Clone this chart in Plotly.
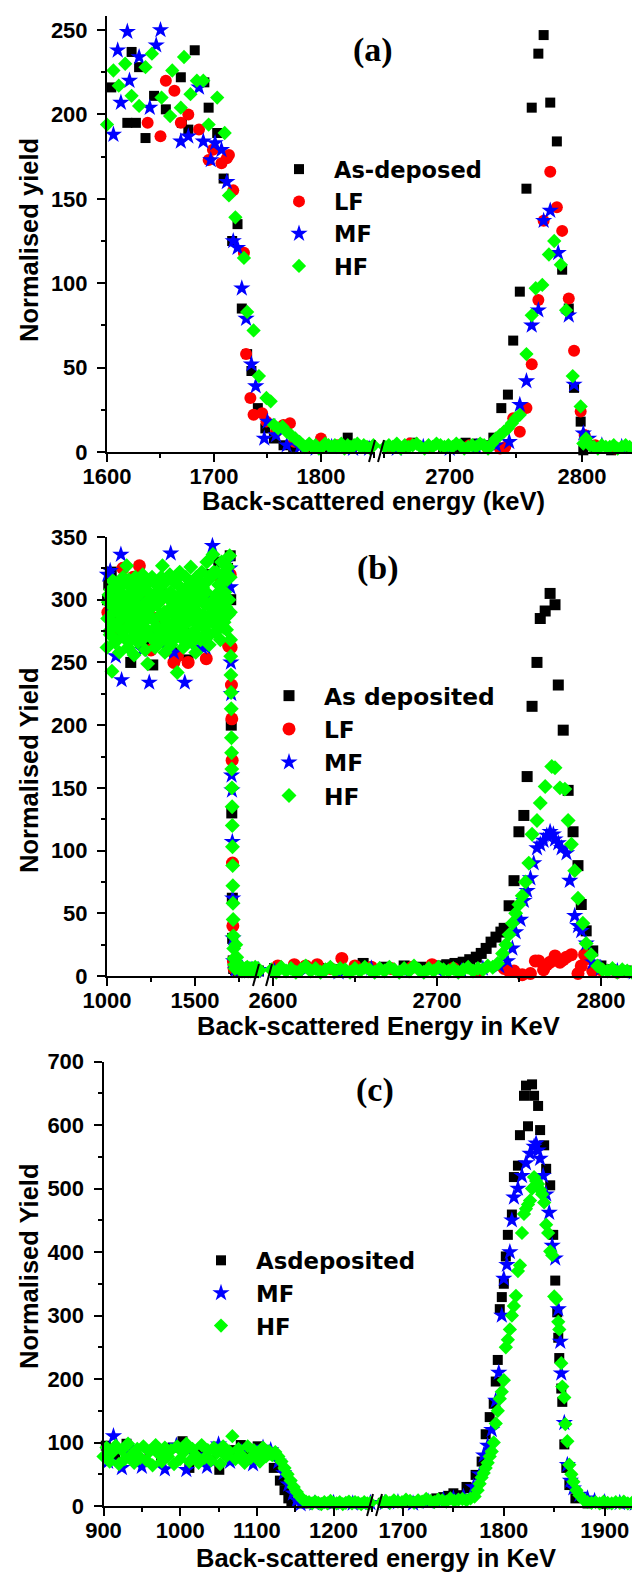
import plotly.graph_objects as go

# ---------------- data: panel (a) ----------------
a_asd_x = [1604,1619,1623,1627,1630,1636,1644,1655,1669,1670,1676,1682,1691,1695,1703,1709,1717,1722,1726,1731,1735,1741,1748,1756,1765,1774,1785,1796,1808,1825,1840,
           2655,2665,2672,2683,2695,2704,2712,2721,2728,2733,2739,2744,2748,2753,2758,2762,2767,2771,2776,2781,2785,2790,2794,2799,2801,2810,2822,2835,2847]
a_asd_y = [216,195,237,195,228,186,211,203,222,195,191,238,219,204,189,162,125,135,85,58,48,26,14,8,4,3,2,3,2,8.5,3,
           2,3,5.5,3,2,3,5.5,5,4,8.5,26,34,66,95,156,204,236,247,207,184,108,85,38,18,1,2,1,2,1]
a_lf_x = [1638,1650,1655,1663,1669,1676,1686,1695,1699,1707,1712,1714,1718,1728,1730,1734,1737,1745,1749,1758,1765,1771,1775,1785,1800,1815,1830,1845,
          2655,2670,2685,2700,2715,2728,2738,2742,2748,2753,2758,2762,2767,2771,2776,2781,2785,2790,2794,2799,2802,2810,2825,2840]
a_lf_y = [195,187,220,214,195,200,191,173,179,171,174,176,155,118,58,32,22,23,18,12,16,17,6,3,8,4,3,3,
          3,5,3,3,4,3,2,3,20,12,26,52,90,137,166,145,131,91,60,24,10,4,2,3]
a_mf_x = [1606,1610,1613,1619,1621,1630,1640,1646,1650,1669,1676,1686,1690,1697,1701,1707,1712,1718,1722,1726,1730,1735,1739,1747,1750,1758,1768,1780,1795,1810,1830,1845,
          2660,2680,2700,2720,2735,2745,2753,2758,2762,2767,2771,2776,2782,2790,2794,2801,2805,2815,2830,2845]
a_mf_y = [188,238,207,249,220,234,204,241,250,184,187,216,184,173,183,179,160,125,121,97,79,52,39,8,18,10,4,3,2,3,2,2,
          2,3,2,3,4,6,28,42,75,84,137,143,118,81,40,11,8,4,3,2]
a_hf_x = [1600,1606,1611,1617,1623,1630,1636,1642,1651,1659,1661,1669,1672,1678,1684,1690,1695,1703,1710,1714,1720,1728,1731,1737,1742,1749,1753,1756,1760,1764,1768,1772,1776,1780,
          1783,1786,1789,1792,1795,1798,1801,1804,1807,1810,1813,1816,1819,1822,1825,1828,1831,1834,1837,1840,1843,1846,1849,
          2651,2654,2657,2660,2663,2666,2669,2672,2675,2678,2681,2684,2687,2690,2693,2696,2699,2702,2705,2708,2711,2714,2717,2720,2723,2726,
          2729,2732,2735,2738,2741,2744,2747,2750,2753,2758,2762,2765,2770,2775,2779,2784,2788,2793,2799,2801,2803,
          2806,2809,2812,2815,2818,2821,2824,2827,2830,2833,2836,2839,2842,2845,2848]
a_hf_y = [194,226,217,230,211,205,228,236,210,199,226,204,234,212,220,220,194,210,189,152,139,115,83,72,45,32,30,16,14,15,12,10,8,6,
          4,3,5,3,4,2,3,5,4,3,4,3,5,2,4,3,4,5,3,4,3,2,4,
          3,4,3,5,2,4,3,4,5,3,2,4,3,5,4,3,4,3,5,4,2,3,4,3,5,4,
          2,5,8,10,12,14,17,20,22,58,81,97,99,117,125,111,84,45,27,5,8,
          4,3,2,4,3,3,4,2,3,4,3,2,3,4,3]

# ---------------- data: panel (b) ----------------
b_asd_x = [1003,1010,1017,1024,1031,1038,1060,1085,1110,1135,1160,1185,1210,1235,1260,1285,1310,1335,1360,1385,1410,1435,1460,1485,1510,1535,1560,1585,1610,1635,1660,1685,1700,
           1703,1706,1709,1712,1714,1717,1720,
           1730,1745,1760,1780,1800,1820,1840,1860,
           2601,2615,2628,2640,2655,2668,2680,2690,2700,2706,2711,2716,2720,2724,2727,2730,2733,2736,2739,2741,
           2744,2747,2750,2753,2755,2758,2761,2763,2766,2769,2772,2774,2777,2780,2783,2786,2788,2791,2795,2800,2806,2815,2825]
b_asd_y = [300,312,318,322,314,305,290,275,300,250,285,310,265,295,248,280,305,270,290,258,300,275,252,290,310,280,300,320,285,330,305,325,335,
           300,200,130,62,30,12,6,
           5,4,5,4,5,4,5,4,
           6,5,6,5,10,7,8,7,8,9,10,11,13,15,18,22,27,31,35,38,
           56,76,115,128,159,215,250,285,291,305,296,232,196,148,115,88,57,36,20,8,5,4,3]
b_lf_x = [1005,1030,1055,1080,1090,1105,1130,1150,1175,1184,1200,1225,1250,1275,1300,1325,1350,1380,1400,1425,1450,1461,1480,1505,1530,1550,1564,1590,1620,1650,1680,1691,1700,
          1705,1707,1709,1711,1713,1715,1718,1722,
          1735,1755,1775,1800,1825,1850,
          2603,2613,2620,2627,2635,2642,2650,2660,2672,2685,2697,2710,2725,2741,2744,2747,2752,2757,
          2760,2762,2765,2767,2769,2772,2775,2777,2779,2782,2786,2788,2790,2792,2795,2800,2810,2822]
b_lf_y = [290,275,305,300,325,280,295,318,270,327,290,305,260,285,300,275,260,250,255,300,285,250,270,290,310,285,253,300,320,305,290,263,320,
          262,232,205,172,90,40,12,6,
          5,6,4,5,4,5,
          8,9,8,9,6,14,8,7,6,7,9,6,4,6,4,4,1,2,
          12,12,5,9,11,16,11,13,15,17,2,8,17,14,4,5,3,4]
b_mf_x = [1002,1018,1040,1050,1065,1079,1083,1100,1125,1150,1175,1200,1225,1240,1260,1285,1310,1340,1362,1380,1400,1420,1442,1465,1490,1515,1540,1560,1580,1599,1620,1650,1680,1698,
          1701,1704,1706,1708,1710,1712,1714,1716,1719,
          1730,1750,1770,1795,1820,1845,1862,
          2601,2620,2640,2660,2680,2700,2715,2728,2738,2743,2746,2748,2751,2753,2755,2757,2759,2761,
          2763,2765,2767,2769,2771,2772,2774,2776,2779,2781,2784,2786,2788,2791,2795,2800,2810,2820]
b_mf_y = [320,323,290,255,305,336,236,270,300,280,300,260,295,234,275,305,265,262,337,258,290,300,234,265,310,280,262,262,300,343,320,300,330,325,
          310,250,225,160,148,107,62,30,12,
          5,4,6,4,5,4,5,
          4,5,3,6,4,5,4,6,8,12,22,35,45,60,68,78,90,102,
          105,108,112,115,113,109,106,102,98,76,48,40,36,26,11,6,4,3]
b_hf_x = [1000,1007,1014,1021,1028,1035,1042,1049,1056,1063,1070,1077,1084,1091,1098,1105,1112,1119,1126,1133,
          1140,1147,1154,1161,1168,1175,1182,1189,1196,1203,1210,1217,1224,1231,1238,1245,1252,1259,1266,1273,
          1280,1287,1294,1301,1308,1315,1322,1329,1336,1343,1350,1357,1364,1371,1378,1385,1392,1399,1406,1413,
          1420,1427,1434,1441,1448,1455,1462,1469,1476,1483,1490,1497,1504,1511,1518,1525,1532,1539,1546,1553,
          1560,1567,1574,1581,1588,1595,1602,1609,1616,1623,1630,1637,1644,1651,1658,1665,1672,1679,1686,1693,
          1004,1011,1018,1025,1032,1039,1046,1053,1060,1067,1074,1081,1088,1095,1102,1109,1116,1123,1130,1137,
          1144,1151,1158,1165,1172,1179,1186,1193,1200,1207,1214,1221,1228,1235,1242,1249,1256,1263,1270,1277,
          1284,1291,1298,1305,1312,1319,1326,1333,1340,1347,1354,1361,1368,1375,1382,1389,1396,1403,1410,1417,
          1424,1431,1438,1445,1452,1459,1466,1473,1480,1487,1494,1501,1508,1515,1522,1529,1536,1543,1550,1557,
          1564,1571,1578,1585,1592,1599,1606,1613,1620,1627,1634,1641,1648,1655,1662,1669,1676,1683,1690,
          1697,1700,1701,1702,1703,1704,1705,1706,1707,1708,1709,1710,1711,1712,1713,1714,1715,1716,1717,1718,1720,1722,1725,1728,
          1732,1737,1742,1747,1752,1757,1762,1767,1772,1777,1782,1787,1792,1797,1802,1807,1812,1817,1822,1827,1832,1837,1842,1847,1852,1857,1862,
          2599,2602,2605,2608,2611,2614,2617,2620,2623,2626,2629,2632,2635,2638,2641,2644,2647,2650,2653,2656,2659,2662,2665,
          2668,2671,2674,2677,2680,2683,2686,2689,2692,2695,2698,2701,2704,2707,2710,2713,2716,2719,2722,2725,2728,2731,2734,
          2737,2740,2742,2744,2746,2748,2750,2752,2754,2756,2758,2761,2763,2766,2770,2772,2775,2778,2780,2782,2784,2786,2789,2791,2794,2798,
          2801,2804,2807,2810,2813,2816,2819,2822,2825]
b_hf_y = [262,298,275,308,243,290,314,268,300,282,258,306,288,318,270,296,327,262,284,310,
          276,300,256,318,286,266,304,292,272,320,282,260,308,249,294,316,270,300,284,262,
          312,278,298,266,318,327,286,258,304,274,292,320,264,300,282,314,270,242,296,322,
          278,306,262,290,318,272,300,284,326,266,308,290,258,316,280,300,268,322,288,306,
          272,330,296,264,318,284,336,300,274,322,290,312,268,330,298,282,318,276,326,300,
          285,304,272,296,315,280,266,300,290,310,276,294,312,270,288,302,278,316,292,268,
          306,284,298,274,314,290,280,308,268,296,286,312,276,300,292,270,318,284,304,278,
          296,270,310,288,276,302,290,314,282,268,300,306,276,294,288,316,274,302,284,310,
          292,268,306,280,298,288,312,272,296,284,304,276,318,290,270,300,286,310,278,296,
          306,284,316,272,298,290,322,280,304,292,312,286,300,320,278,306,294,316,288,
          335,318,290,268,255,240,226,213,190,178,165,150,135,120,103,88,72,58,45,32,22,14,9,6,
          25,15,10,8,6,5,7,4,6,5,4,6,5,7,4,5,6,4,5,6,4,5,7,4,5,6,4,
          5,3,7,4,6,3,5,8,4,6,3,5,7,4,6,5,3,6,4,7,5,3,6,
          4,7,5,3,6,4,8,5,3,6,4,7,5,4,6,3,5,7,4,6,5,8,7,
          10,18,25,33,42,50,57,64,75,90,113,124,138,151,167,166,150,149,124,105,84,62,42,26,17,8,
          5,4,6,3,5,4,3,5,4]

# ---------------- data: panel (c) ----------------
c_asd_x = [903,915,930,945,960,975,990,1003,1012,1025,1040,1051,1065,1079,1090,1101,1112,1122,1130,1136,1141,1145,1160,1180,1200,1220,1240,
           1680,1690,1700,1710,1720,1733,1740,1745,1750,1757,1763,1766,1772,1778,1782,1786,1790,1792,1794,1796,1798,1800,1802,1804,1808,
           1810,1814,1816,1820,1822,1824,1828,1830,1834,1836,1840,1842,1846,1849,1851,1853,1854,1855,1857,1858,1860,1862,1865,1871,1883,1900,1920,1940]
c_asd_y = [95,80,98,75,88,70,92,102,60,85,72,57,88,96,84,94,80,60,40,25,12,5,4,5,4,5,4,
           5,6,5,7,8,12,14,16,20,17,30,28,49,70,113,140,161,196,230,310,329,350,393,427,459,
           518,536,584,646,662,598,664,646,630,592,568,531,505,427,355,305,265,233,185,164,97,60,33,12,4,3,4,3]
c_mf_x = [906,913,924,935,950,965,980,995,1008,1020,1035,1050,1065,1080,1095,1108,1118,1128,1135,1141,1147,1152,1157,1175,1200,1225,1248,
          1682,1695,1710,1725,1740,1750,1760,1770,1776,1780,1784,1788,1792,1795,1798,1800,1803,1806,1808,1810,1814,1818,1822,1826,1830,
          1832,1834,1836,1839,1842,1845,1848,1851,1854,1856,1857,1860,1863,1866,1869,1875,1883,1890,1900,1915,1930,1941]
c_mf_y = [70,110,60,92,62,88,58,95,57,80,62,97,70,85,66,92,88,70,52,34,20,9,3,4,5,4,5,
          5,6,4,7,10,12,15,30,50,80,95,120,166,210,300,358,380,400,450,486,500,520,540,555,566,
          571,560,547,520,491,462,410,390,310,259,209,131,65,40,28,18,12,8,6,5,4,4]
c_hf_x = [900,904,908,912,916,920,924,928,932,936,940,944,948,952,956,960,964,968,972,976,980,984,988,992,996,1000,1004,1008,
          1012,1016,1020,1024,1028,1032,1036,1040,1044,1048,1052,1056,1060,1064,1068,1072,1076,1080,1084,1088,1092,1096,1100,1104,1108,1112,1116,1120,
          1124,1128,1132,1136,1140,1144,1148,1152,1156,1160,1164,
          1168,1172,1176,1180,1184,1188,1192,1196,1200,1204,1208,1212,1216,1220,1224,1228,1232,1236,1240,1244,1248,
          1679,1683,1687,1691,1695,1699,1703,1707,1711,1715,1719,1723,1727,1731,1735,1739,1743,1747,1751,1755,1759,1763,1767,
          1771,1774,1776,1778,1780,1782,1784,1786,1788,1790,1792,1794,1796,1798,1800,1802,1804,1806,1808,1810,1812,1814,1816,1818,1820,
          1822,1824,1826,1828,1830,1832,1834,1836,1838,1840,1842,1844,1846,1848,1850,1852,1854,1855,1857,1858,1860,1861,1863,1865,1867,
          1869,1872,1875,1879,1883,
          1887,1891,1895,1899,1903,1907,1911,1915,1919,1923,1927,1931,1935,1939]
c_hf_y = [78,92,70,85,95,66,88,74,98,80,68,90,76,94,72,86,64,96,82,70,92,78,88,66,94,74,84,98,
          70,90,80,68,96,76,88,72,92,84,66,94,78,86,110,74,90,80,68,94,76,88,82,70,92,78,86,80,
          85,78,70,60,50,40,30,22,15,10,7,
          6,4,7,5,3,6,4,8,5,4,6,3,5,7,4,6,5,3,6,4,5,
          6,8,5,9,7,6,10,8,5,9,7,11,8,6,10,9,7,12,8,10,11,9,12,
          15,25,35,45,52,60,68,78,86,100,130,150,169,180,198,250,262,278,300,315,331,370,379,430,460,
          468,475,481,500,518,512,507,498,491,478,443,430,401,395,330,326,290,278,225,188,171,129,102,65,50,
          38,25,17,10,6,
          5,6,4,7,5,4,6,5,7,4,5,6,4,5]

# ---------------- styling / layout ----------------
W, H = 640, 1572
FONT = "Liberation Sans, Arial, sans-serif"
LEGFONT = "DejaVu Sans, Verdana, sans-serif"
SERIF = "Liberation Serif, Times New Roman, serif"


def fx(p):
    return p / W


def fy(p):
    return 1 - p / H


COLORS = {'asd': '#000000', 'lf': '#FF0000', 'mf': '#0000FF', 'hf': '#00FF00'}
SYMBOLS = {'asd': 'square', 'lf': 'circle', 'mf': 'star', 'hf': 'diamond'}

panels = [
    dict(ytop=8, ybot=444, yrange=[0, 258.3], ydtick=50, yminor=25,
         lx=(99, 367), lrange=[1600, 1850.5], ltick0=1600, ldtick=100, lminor=50,
         rx=(374, 640), rrange=[2648.8, 2849.9], rtick0=2600, rdtick=100, rminor=50,
         split=2000,
         series=[('As-deposed', 'asd', a_asd_x, a_asd_y, 10),
                 ('LF', 'lf', a_lf_x, a_lf_y, 12),
                 ('MF', 'mf', a_mf_x, a_mf_y, 13),
                 ('HF', 'hf', a_hf_x, a_hf_y, 11)],
         leg_sym=298, leg_row=166, leg_font=22.5,
         label='(a)', labelpos=(365, 42),
         xtitle='Back-scattered energy (keV)', xtitlepos=(365, 493),
         ytitle='Normalised yield', ytitlepos=(21, 232)),
    dict(ytop=529, ybot=968, yrange=[0, 350], ydtick=50, yminor=25,
         lx=(99, 251), lrange=[1000, 1863.6], ltick0=1000, ldtick=500, lminor=250,
         rx=(262, 640), rrange=[2598.2, 2828.7], rtick0=2600, rdtick=100, rminor=50,
         split=2200,
         series=[('As deposited', 'asd', b_asd_x, b_asd_y, 11),
                 ('LF', 'lf', b_lf_x, b_lf_y, 13),
                 ('MF', 'mf', b_mf_x, b_mf_y, 13),
                 ('HF', 'hf', b_hf_x, b_hf_y, 11.5)],
         leg_sym=288, leg_row=692, leg_font=23.3,
         label='(b)', labelpos=(370, 560),
         xtitle='Back-scattered Energy in KeV', xtitlepos=(370, 1018),
         ytitle='Normalised Yield', ytitlepos=(21, 762)),
    dict(ytop=1053.5, ybot=1498, yrange=[0, 700], ydtick=100, yminor=50,
         lx=(95.5, 365), lrange=[900, 1251.4], ltick0=900, ldtick=100, lminor=50,
         rx=(372, 640), rrange=[1677.2, 1943], rtick0=1700, rdtick=100, rminor=50,
         split=1500,
         series=[('Asdeposited', 'asd', c_asd_x, c_asd_y, 10),
                 ('MF', 'mf', c_mf_x, c_mf_y, 13),
                 ('HF', 'hf', c_hf_x, c_hf_y, 11)],
         leg_sym=220, leg_row=1257, leg_font=22.8,
         label='(c)', labelpos=(367, 1082),
         xtitle='Back-scattered energy in KeV', xtitlepos=(368, 1550),
         ytitle='Normalised Yield', ytitlepos=(21, 1258)),
]

fig = go.Figure()
layout = dict(width=W, height=H, autosize=False,
              margin=dict(l=0, r=0, t=0, b=0, pad=0, autoexpand=False),
              paper_bgcolor='white', plot_bgcolor='white',
              showlegend=True, annotations=[], shapes=[])

tickfont = dict(family=FONT, size=22, color='black', weight='bold')


def xname(n):
    return 'x' if n == 1 else 'x%d' % n


def yname(n):
    return 'y' if n == 1 else 'y%d' % n


def axkey(prefix, n):
    return prefix + ('' if n == 1 else str(n))


for i, p in enumerate(panels):
    xl, xr, yy = 2 * i + 1, 2 * i + 2, i + 1
    legname = 'legend' if i == 0 else 'legend%d' % (i + 1)
    common_x = dict(showline=True, linecolor='black', linewidth=2, ticks='outside', ticklen=8,
                    tickwidth=2, tickcolor='black', showgrid=False, zeroline=False,
                    tickfont=tickfont, tickmode='linear', anchor=yname(yy), fixedrange=True,
                    automargin=False, ticklabelstandoff=-4)
    layout[axkey('xaxis', xl)] = dict(common_x, domain=[fx(p['lx'][0]), fx(p['lx'][1])],
                                      range=p['lrange'], tick0=p['ltick0'], dtick=p['ldtick'],
                                      minor=dict(ticks='outside', ticklen=4, tickwidth=2, tickcolor='black',
                                                 tick0=p['ltick0'], dtick=p['lminor'], showgrid=False))
    layout[axkey('xaxis', xr)] = dict(common_x, domain=[fx(p['rx'][0]), fx(p['rx'][1])],
                                      range=p['rrange'], tick0=p['rtick0'], dtick=p['rdtick'],
                                      minor=dict(ticks='outside', ticklen=4, tickwidth=2, tickcolor='black',
                                                 tick0=p['rtick0'], dtick=p['rminor'], showgrid=False))
    layout[axkey('yaxis', yy)] = dict(domain=[fy(p['ybot']), fy(p['ytop'])], range=p['yrange'],
                                      anchor=xname(xl), showline=True, linecolor='black', linewidth=2,
                                      ticks='outside', ticklen=8, tickwidth=2, tickcolor='black',
                                      showgrid=False, zeroline=False, tickfont=tickfont,
                                      tickmode='linear', tick0=0, dtick=p['ydtick'], fixedrange=True,
                                      automargin=False, ticklabelstandoff=5,
                                      minor=dict(ticks='outside', ticklen=4, tickwidth=2, tickcolor='black',
                                                 tick0=0, dtick=p['yminor'], showgrid=False))
    for name, key, xs, ys, msize in p['series']:
        lx_, ly_, rx_, ry_ = [], [], [], []
        for xv, yv in zip(xs, ys):
            if xv < p['split']:
                lx_.append(xv); ly_.append(yv)
            else:
                rx_.append(xv); ry_.append(yv)
        marker = dict(symbol=SYMBOLS[key], size=msize, color=COLORS[key], line=dict(width=0))
        fig.add_trace(go.Scatter(x=lx_, y=ly_, mode='markers', marker=marker, name=name,
                                 xaxis=xname(xl), yaxis=yname(yy), legend=legname,
                                 cliponaxis=False, showlegend=True, hoverinfo='skip'))
        fig.add_trace(go.Scatter(x=rx_, y=ry_, mode='markers', marker=marker, name=name,
                                 xaxis=xname(xr), yaxis=yname(yy), legend=legname,
                                 cliponaxis=False, showlegend=False, hoverinfo='skip'))
    layout[legname] = dict(x=fx(p['leg_sym'] - 42), y=fy(p['leg_row'] - 26), xanchor='left', yanchor='top',
                           itemwidth=60, bgcolor='rgba(0,0,0,0)', borderwidth=0, tracegroupgap=0,
                           font=dict(family=LEGFONT, size=p['leg_font'], color='black', weight='bold'),
                           itemclick=False, itemdoubleclick=False)
    layout['annotations'].append(dict(text=p['label'], x=fx(p['labelpos'][0]), y=fy(p['labelpos'][1]),
                                      xref='paper', yref='paper', xanchor='center', yanchor='middle',
                                      showarrow=False,
                                      font=dict(family=SERIF, size=34, color='black', weight='bold')))
    layout['annotations'].append(dict(text=p['xtitle'], x=fx(p['xtitlepos'][0]), y=fy(p['xtitlepos'][1]),
                                      xref='paper', yref='paper', xanchor='center', yanchor='middle',
                                      showarrow=False,
                                      font=dict(family=FONT, size=25.5, color='black', weight='bold')))
    layout['annotations'].append(dict(text=p['ytitle'], x=fx(p['ytitlepos'][0]), y=fy(p['ytitlepos'][1]),
                                      xref='paper', yref='paper', xanchor='center', yanchor='middle',
                                      textangle=-90, showarrow=False,
                                      font=dict(family=FONT, size=25.5, color='black', weight='bold')))
    yb = p['ybot']
    for cx in (p['lx'][1] - 3, p['rx'][0] - 1):
        layout['shapes'].append(dict(type='line', xref='paper', yref='paper',
                                     x0=fx(cx - 3), y0=fy(yb + 10), x1=fx(cx + 3), y1=fy(yb - 12),
                                     line=dict(color='black', width=2)))

fig.update_layout(**layout)
fig.write_html("out.html")
